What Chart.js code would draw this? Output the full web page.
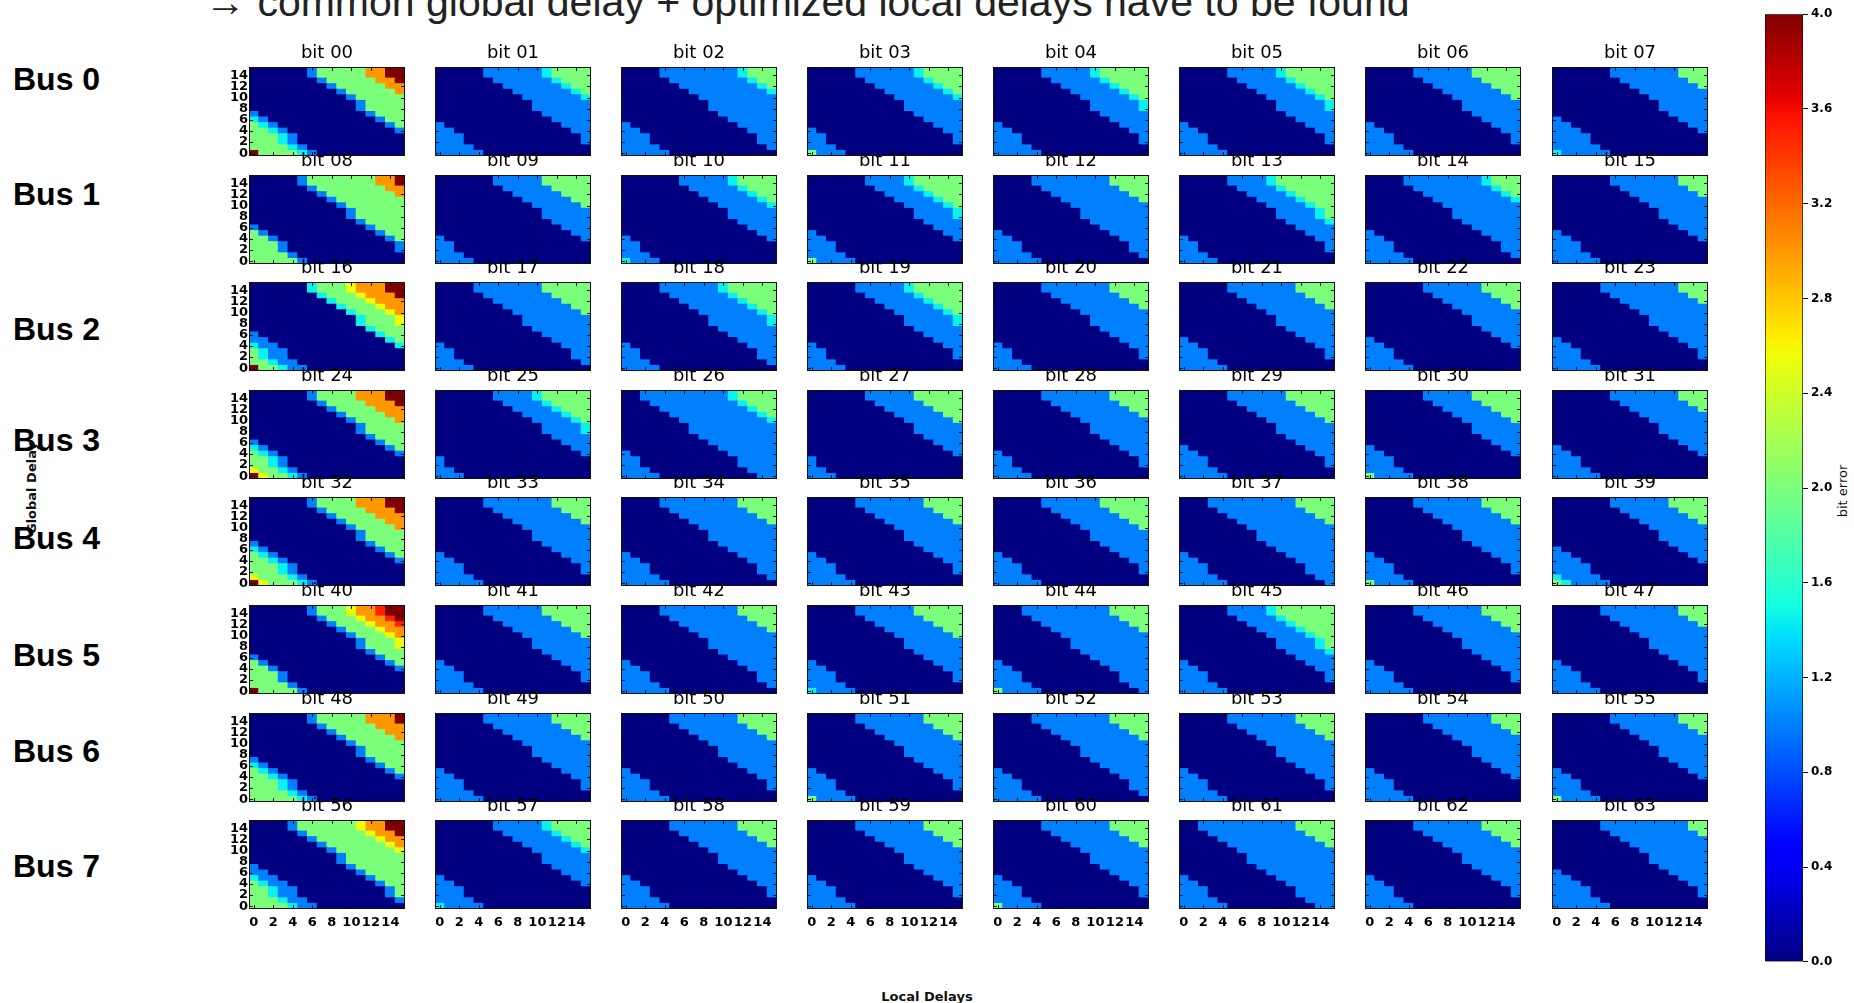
<!DOCTYPE html>
<html>
<head>
<meta charset="utf-8">
<script src="https://cdn.jsdelivr.net/npm/chart.js@4.4.1/dist/chart.umd.min.js"></script>
<style>
  html, body { margin: 0; padding: 0; background: #fff; }
  body { width: 1854px; height: 1003px; position: relative; overflow: hidden; }
  canvas { position: absolute; }
  .txt { position: absolute; white-space: nowrap; }
  #headline { left: 205px; top: -18px; font: 41px/41px "Liberation Sans", Arial, sans-serif; color: #222; }
  .bus { left: 13px; font: bold 32px/32px "Liberation Sans", Arial, sans-serif; color: #000; transform: translateY(-50%); }
  #ylab { left: 31px; top: 488px; font: bold 13px/13px "DejaVu Sans", sans-serif; color: #111; transform: translate(-50%, -50%) rotate(-90deg); }
  #xlab { left: 927px; top: 996px; font: bold 13px/13px "DejaVu Sans", sans-serif; color: #111; transform: translate(-50%, -50%); }
  #cblab { left: 1842px; top: 491px; font: 13px/13px "DejaVu Sans", sans-serif; color: #111; transform: translate(-50%, -50%) rotate(-90deg); }
</style>
</head>
<body>
<div id="headline" class="txt">→ common global delay + optimized local delays have to be found</div>
<div id="ylab" class="txt">Global Delay</div>
<div id="xlab" class="txt">Local Delays</div>
<div id="cblab" class="txt">bit error</div>
<script>
// axes
const localDelays = [0, 1, 2, 3, 4, 5, 6, 7, 8, 9, 10, 11, 12, 13, 14, 15];
const globalDelays = [0, 1, 2, 3, 4, 5, 6, 7, 8, 9, 10, 11, 12, 13, 14, 15];
const xTickValues = [0, 2, 4, 6, 8, 10, 12, 14];
const yTickValues = [0, 2, 4, 6, 8, 10, 12, 14];
const colorbarTicks = [0, 0.4, 0.8, 1.2, 1.6, 2.0, 2.4, 2.8, 3.2, 3.6, 4.0];
const busLabels = ['Bus 0', 'Bus 1', 'Bus 2', 'Bus 3', 'Bus 4', 'Bus 5', 'Bus 6', 'Bus 7'];

// bit error per colour class seen in the picture
const cellCodes = { d: 0.0, m: 0.45, n: 0.7, b: 1.0, c: 1.45, g: 2.0, y: 2.55, o: 3.0, R: 3.5, r: 4.0 };

// each map is constant along the staircase diagonals, so a map is stored as
// its diagonal profile (run-length: code + count, 28 steps from the
// bottom-left cell to the top-right cell); rowShift is the staircase step
const rowShift = [0, 1, 2, 2, 3, 4, 5, 6, 7, 7, 8, 9, 10, 11, 12, 12];

const bus0 = ['r1g4c1b1d11b1g5o2r2', 'b5d12b6c1g4', 'b5d11b8c1g3', 'g1b3d13b6c1g4',
              'b5d12b5c1g5', 'b5d12b5c1g5', 'b5d12b6g5', 'c1b5d12b7g3'];
const bus1 = ['g5b1d11b1g7o2r1', 'b4d14b5g5', 'c1b3d14b5c1g4', 'g1b4d13b4c1g5',
              'b5d11b8g4', 'b4d13b4c1g6', 'b5d11b8c1g3', 'b5d13b7g3'];
const bus2 = ['r1g2c1b2d12c1g3y1o3r2', 'b4d12b7g5', 'b4d12b6c1g5', 'b4d13b5c1g5',
              'b4d13b7g4', 'b5d12b7g4', 'b5d13b6g4', 'b5d12b8g3'];
const bus3 = ['r1y1g2c1b1d12b1g4o3r2', 'b3d15b4c1g5', 'b4d10b9c1g4', 'b3d15b5g5',
              'b4d13b7g4', 'b5d12b6g5', 'g1b4d13b5g5', 'b5d13b7g3'];
const bus4 = ['r1y1g3c1b1d11b1g4o3r2', 'b5d12b7g4', 'b5d11b8g4', 'b5d12b7g4',
              'b5d12b6g5', 'b5d10b9g4', 'g1b4d12b7g4', 'g1c1b4d12b6g4'];
const bus5 = ['r1g4b1d12b1g3y1o2R1r2', 'b5d12b6g5', 'b5d11b8g4', 'c1b4d12b6g5',
              'g1b4d10b9g4', 'b5d12b4c1g6', 'b5d12b7g4', 'b5d12b8g3'];
const bus6 = ['g5c1b1d11b1g5o3r1', 'b5d12b7g4', 'b5d12b7g4', 'g1b4d12b7g4',
              'b5d11b8g4', 'b5d12b7g4', 'b5d13b7g3', 'g1b4d13b7g3'];
const bus7 = ['g4c1b2d9b1g6y1o2r2', 'c1b4d13b5c1g4', 'b5d12b7g4', 'b5d12b7g4',
              'g1b4d12b7g4', 'b5d9b10g4', 'b5d12b7g4', 'b6d11b9g2'];
const buses = [bus0, bus1, bus2, bus3, bus4, bus5, bus6, bus7];

// layout
const colLeft = [249, 435, 621, 807, 993, 1179, 1365, 1552];
const rowTop = [67, 175, 282, 390, 497, 605, 713, 820];
const busY = [79, 194, 329, 440, 538, 655, 751, 866];
const PW = 156, PH = 89, AXW = 30, TITLEH = 24, XAXH = 22, PADR = 2;

// matplotlib jet
const jetR = [[0, 0], [0.35, 0], [0.66, 1], [0.89, 1], [1, 0.5]];
const jetG = [[0, 0], [0.125, 0], [0.375, 1], [0.64, 1], [0.91, 0], [1, 0]];
const jetB = [[0, 0.5], [0.11, 1], [0.34, 1], [0.65, 0], [1, 0]];
function seg(pts, t) {
  for (let i = 1; i < pts.length; i++) {
    if (t <= pts[i][0]) {
      const [x0, y0] = pts[i - 1], [x1, y1] = pts[i];
      return y0 + (y1 - y0) * (t - x0) / (x1 - x0);
    }
  }
  return pts[pts.length - 1][1];
}
function jet(t) {
  t = Math.max(0, Math.min(1, t));
  return 'rgb(' + Math.round(255 * seg(jetR, t)) + ',' + Math.round(255 * seg(jetG, t)) + ',' + Math.round(255 * seg(jetB, t)) + ')';
}

function expand(rle) {
  const out = [];
  rle.replace(/([a-zA-Z])(\d+)/g, (m, ch, n) => {
    for (let i = 0; i < +n; i++) out.push(cellCodes[ch]);
  });
  return out;
}
function mapGrid(rle) {
  const prof = expand(rle);
  return globalDelays.map(g => localDelays.map(l => prof[Math.min(prof.length - 1, l + rowShift[g])]));
}

const framePlugin = {
  id: 'frame',
  afterDraw(chart) {
    const { ctx, chartArea: a, scales } = chart;
    ctx.save();
    ctx.strokeStyle = '#111';
    ctx.lineWidth = 1;
    ctx.strokeRect(a.left + 0.5, a.top + 0.5, a.right - a.left - 1, a.bottom - a.top - 1);
    ctx.beginPath();
    xTickValues.forEach(v => {
      const px = Math.round(scales.x.getPixelForValue(v)) + 0.5;
      ctx.moveTo(px, a.top); ctx.lineTo(px, a.top + 4);
      ctx.moveTo(px, a.bottom); ctx.lineTo(px, a.bottom - 4);
    });
    yTickValues.forEach(v => {
      const py = Math.round(scales.y.getPixelForValue(v + 0.5)) + 0.5;
      ctx.moveTo(a.left, py); ctx.lineTo(a.left + 4, py);
      ctx.moveTo(a.right, py); ctx.lineTo(a.right - 4, py);
    });
    ctx.stroke();
    ctx.restore();
  }
};

const tickFont = { family: 'DejaVu Sans', size: 13, weight: 'bold' };

function addCanvas(left, top, w, h) {
  const c = document.createElement('canvas');
  c.width = w; c.height = h;
  c.style.left = left + 'px'; c.style.top = top + 'px';
  c.style.width = w + 'px'; c.style.height = h + 'px';
  document.body.appendChild(c);
  return c;
}

buses.forEach((bits, r) => {
  const lab = document.createElement('div');
  lab.className = 'txt bus';
  lab.style.top = busY[r] + 'px';
  lab.textContent = busLabels[r];
  document.body.appendChild(lab);

  bits.forEach((rle, c) => {
    const bit = r * 8 + c;
    const grid = mapGrid(rle);
    const showX = r === 7, showY = c === 0;
    const canvas = addCanvas(colLeft[c] - AXW, rowTop[r] - TITLEH, AXW + PW + PADR, TITLEH + PH + XAXH);
    const datasets = globalDelays.map(g => ({
      data: localDelays.map(() => 1),
      backgroundColor: grid[g].map(v => jet(v / 4)),
      borderWidth: 0,
      inflateAmount: 0.5,
      barPercentage: 1,
      categoryPercentage: 1
    }));
    new Chart(canvas, {
      type: 'bar',
      data: { labels: localDelays, datasets },
      options: {
        responsive: false,
        animation: false,
        events: [],
        layout: { padding: { left: 0, right: PADR, top: 0, bottom: 0 } },
        plugins: {
          legend: { display: false },
          tooltip: { enabled: false },
          title: {
            display: true,
            text: 'bit ' + String(bit).padStart(2, '0'),
            fullSize: false,
            color: '#000',
            font: { family: 'DejaVu Sans', size: 18, weight: 'normal', lineHeight: 1.2 },
            padding: { top: 0, bottom: 2.4 }
          }
        },
        scales: {
          x: {
            stacked: true,
            grid: { display: false, drawTicks: false },
            border: { display: false },
            ticks: {
              display: showX, autoSkip: false, maxRotation: 0, padding: 6,
              color: '#000', font: tickFont,
              callback: (v, i) => (xTickValues.includes(i) ? String(localDelays[i]) : '')
            },
            afterFit: s => { s.height = XAXH; }
          },
          y: {
            stacked: true, min: 0, max: 16,
            grid: { display: false, drawTicks: false },
            border: { display: false },
            afterBuildTicks: s => { s.ticks = yTickValues.map(v => ({ value: v + 0.5 })); },
            ticks: {
              display: showY, autoSkip: false, padding: 1,
              color: '#000', font: tickFont,
              callback: v => String(Math.round(v - 0.5))
            },
            afterFit: s => { s.width = AXW; }
          }
        }
      },
      plugins: [framePlugin]
    });
  });
});

// colorbar
const cbCanvas = addCanvas(1765, 4, 38 + 50, 948 + 20);
const jetStops = [0, 0.11, 0.125, 0.34, 0.35, 0.375, 0.64, 0.65, 0.66, 0.89, 0.91, 1];
new Chart(cbCanvas, {
  type: 'bar',
  data: {
    labels: ['bit error'],
    datasets: [{
      data: [[colorbarTicks[0], colorbarTicks[colorbarTicks.length - 1]]],
      backgroundColor: ctx => {
        const chart = ctx.chart;
        if (!chart.chartArea) return 'rgba(0,0,0,0)';
        const y = chart.scales.y;
        const grad = chart.ctx.createLinearGradient(0, y.getPixelForValue(0), 0, y.getPixelForValue(4));
        jetStops.forEach(s => grad.addColorStop(s, jet(s)));
        return grad;
      },
      borderColor: '#111',
      borderWidth: 1,
      borderSkipped: false,
      barPercentage: 1,
      categoryPercentage: 1
    }]
  },
  options: {
    responsive: false,
    animation: false,
    events: [],
    layout: { padding: { top: 10, bottom: 10, left: 0, right: 0 } },
    plugins: { legend: { display: false }, tooltip: { enabled: false } },
    scales: {
      x: { display: false },
      y: {
        position: 'right', min: 0, max: 4,
        grid: { display: true, drawOnChartArea: false, drawTicks: true, tickLength: 5, color: '#111' },
        border: { display: false },
        afterBuildTicks: s => { s.ticks = colorbarTicks.map(v => ({ value: v })); },
        ticks: { padding: 3, color: '#000', font: { family: 'DejaVu Sans', size: 12, weight: 'bold' }, callback: v => v.toFixed(1) },
        afterFit: s => { s.width = 50; }
      }
    }
  }
});
</script>
</body>
</html>
